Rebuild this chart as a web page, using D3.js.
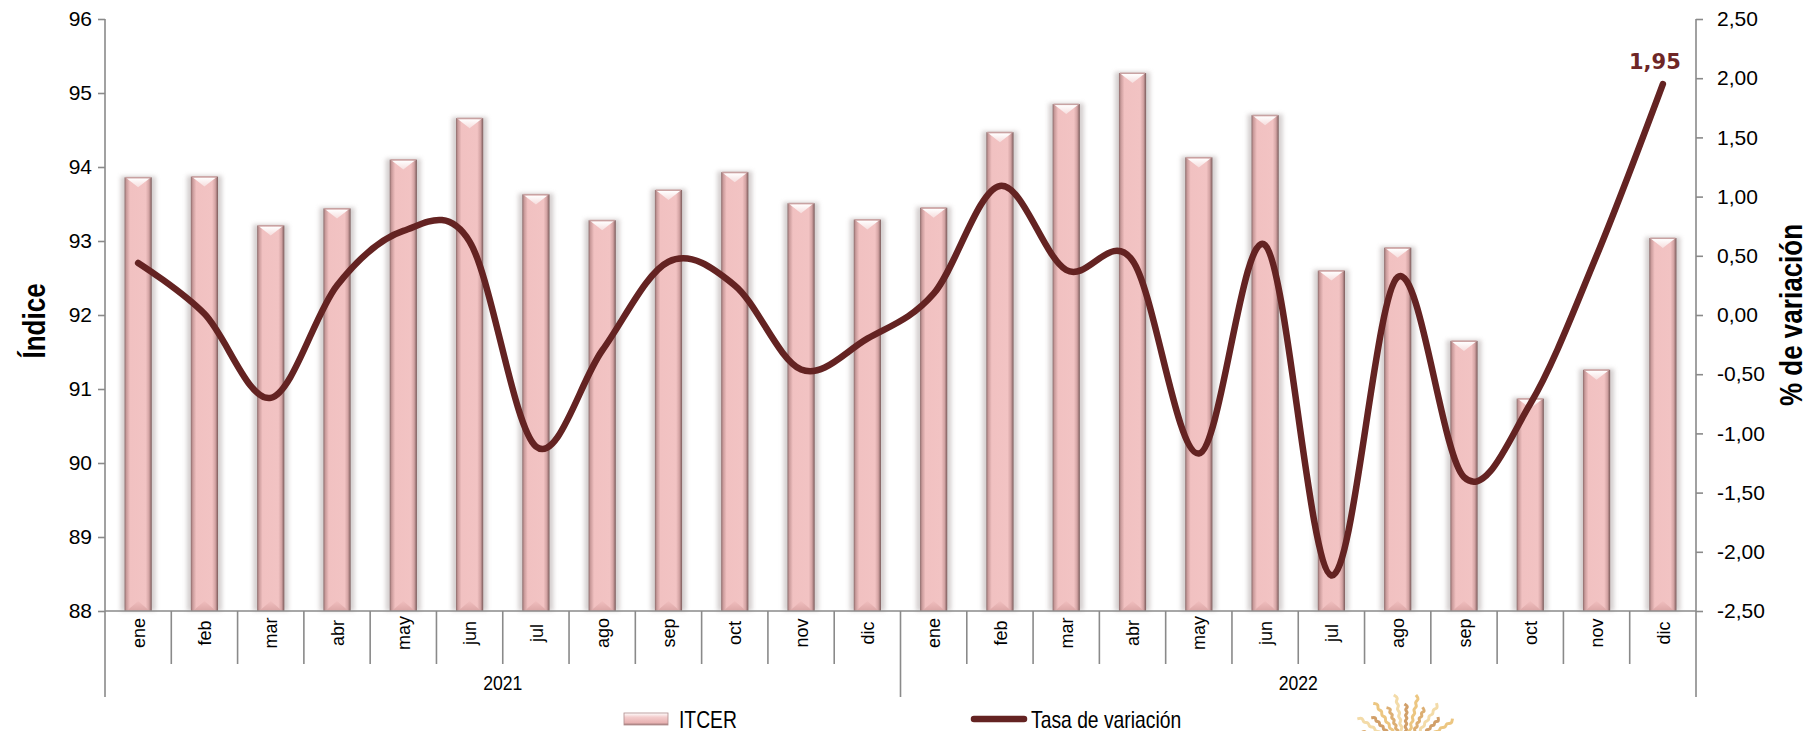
<!DOCTYPE html>
<html>
<head>
<meta charset="utf-8">
<script src="https://cdn.jsdelivr.net/npm/d3@7"></script>
<style>
  html, body { margin: 0; padding: 0; background: #ffffff; }
  svg { display: block; }
  .reg { font-family: "Liberation Sans", Arial, sans-serif; }
</style>
</head>
<body>
<svg id="chart" width="1810" height="731"></svg>
<script>
// ---------------- DATA ----------------
const years = ["2021", "2022"];
const months = ["ene","feb","mar","abr","may","jun","jul","ago","sep","oct","nov","dic"];
const itcer2021 = [93.86, 93.87, 93.21, 93.44, 94.10, 94.66, 93.63, 93.28, 93.69, 93.93, 93.51, 93.29];
const itcer2022 = [93.45, 94.47, 94.85, 95.27, 94.13, 94.70, 92.60, 92.91, 91.65, 90.87, 91.26, 93.04];
const tasa2021 = [0.44, 0.01, -0.70, 0.25, 0.71, 0.62, -1.11, -0.30, 0.45, 0.25, -0.46, -0.20];
const tasa2022 = [0.18, 1.09, 0.38, 0.46, -1.17, 0.59, -2.20, 0.32, -1.37, -0.75, 0.50, 1.95];
const leftTicks = [88, 89, 90, 91, 92, 93, 94, 95, 96];
const rightTicks = [-2.5, -2, -1.5, -1, -0.5, 0, 0.5, 1, 1.5, 2, 2.5];
const seriesNames = ["ITCER", "Tasa de variación"];
const leftTitle = "Índice";
const rightTitle = "% de variación";

// ---------------- BUILD ----------------
const rows = [];
years.forEach((y, yi) => months.forEach((m, mi) => rows.push({
  key: y + "-" + m, year: y, month: m,
  itcer: yi === 0 ? itcer2021[mi] : itcer2022[mi],
  tasa: yi === 0 ? tasa2021[mi] : tasa2022[mi]
})));

const svg = d3.select("#chart");
const L = 105, R = 1696, T = 19, B = 611;
const axisColor = "#8a8a8a";
const lineColor = "#642322";
const NARROW = 0.84;

const x = d3.scaleBand().domain(rows.map(d => d.key)).range([L, R]).paddingInner(0.59).paddingOuter(0.295);
const step = x.step();
const yL = d3.scaleLinear().domain([88, 96]).range([B, T]);
const yR = d3.scaleLinear().domain([-2.5, 2.5]).range([B, T]);

// defs
const defs = svg.append("defs");
const g1 = defs.append("linearGradient").attr("id", "barBody").attr("x1", 0).attr("x2", 1).attr("y1", 0).attr("y2", 0);
[[0, "#8c6a6a"], [0.07, "#c99a9a"], [0.2, "#f1c1c1"], [0.78, "#f2c3c3"], [0.9, "#d3a3a3"], [1, "#7a5a5a"]]
  .forEach(([o, c]) => g1.append("stop").attr("offset", o).attr("stop-color", c));
const g2 = defs.append("linearGradient").attr("id", "capTop").attr("x1", 0).attr("x2", 0).attr("y1", 0).attr("y2", 1);
[[0, "#ffffff"], [1, "#f6dede"]].forEach(([o, c]) => g2.append("stop").attr("offset", o).attr("stop-color", c));
const g3 = defs.append("linearGradient").attr("id", "capBot").attr("x1", 0).attr("x2", 0).attr("y1", 0).attr("y2", 1);
[[0, "#f0bebe"], [1, "#dca6a6"]].forEach(([o, c]) => g3.append("stop").attr("offset", o).attr("stop-color", c));
const g4 = defs.append("linearGradient").attr("id", "legSw").attr("x1", 0).attr("x2", 0).attr("y1", 0).attr("y2", 1);
[[0, "#ffffff"], [0.35, "#f3cccc"], [0.8, "#e8b3b3"], [1, "#a07a7a"]].forEach(([o, c]) => g4.append("stop").attr("offset", o).attr("stop-color", c));
const blur = defs.append("filter").attr("id", "shadow").attr("x", "-50%").attr("y", "-10%").attr("width", "200%").attr("height", "120%");
blur.append("feGaussianBlur").attr("stdDeviation", 2.2);

// bars
const bw = x.bandwidth();
const bars = svg.append("g").selectAll("g").data(rows).join("g");
bars.append("rect")
  .attr("x", d => x(d.key) - 4).attr("y", d => yL(d.itcer) - 1)
  .attr("width", bw + 8).attr("height", d => B - yL(d.itcer) + 1)
  .attr("fill", "#b9b0b0").attr("opacity", 0.6).attr("filter", "url(#shadow)");
bars.append("rect")
  .attr("x", d => x(d.key)).attr("y", d => yL(d.itcer))
  .attr("width", bw).attr("height", d => B - yL(d.itcer))
  .attr("fill", "url(#barBody)");
bars.append("path")
  .attr("d", d => {
    const x0 = x(d.key), x1 = x0 + bw, y0 = yL(d.itcer);
    return `M${x0 + 2},${y0 + 1}L${x1 - 2},${y0 + 1}L${x0 + bw / 2},${y0 + 10}Z`;
  })
  .attr("fill", "url(#capTop)");
bars.append("rect")
  .attr("x", d => x(d.key) + 1).attr("y", d => yL(d.itcer) - 0.5)
  .attr("width", bw - 2).attr("height", 1.5).attr("fill", "#c8a2a2");
bars.append("path")
  .attr("d", d => {
    const x0 = x(d.key), x1 = x0 + bw;
    return `M${x0 + 2},${B}L${x1 - 2},${B}L${x0 + bw / 2},${B - 10}Z`;
  })
  .attr("fill", "url(#capBot)");

// axes
const ax = svg.append("g").attr("stroke", axisColor).attr("stroke-width", 1.6).attr("fill", "none");
ax.append("line").attr("x1", L).attr("x2", L).attr("y1", T).attr("y2", 697);
ax.append("line").attr("x1", R).attr("x2", R).attr("y1", T).attr("y2", 697);
ax.append("line").attr("x1", L).attr("x2", R).attr("y1", B).attr("y2", B);

const leftAxis = d3.axisLeft(yL).tickValues(leftTicks).tickSize(7).tickPadding(6).tickFormat(d3.format("d"));
const gl = svg.append("g").attr("transform", `translate(${L},0)`).call(leftAxis);
gl.select(".domain").remove();
gl.selectAll(".tick line").attr("stroke", axisColor).attr("stroke-width", 1.6);
gl.selectAll(".tick text").attr("class", "reg").attr("font-size", 21).attr("fill", "#000");

const fmtR = v => d3.format(".2f")(v).replace(".", ",").replace("−", "-");
const rightAxis = d3.axisRight(yR).tickValues(rightTicks).tickSize(7).tickPadding(14).tickFormat(fmtR);
const gr = svg.append("g").attr("transform", `translate(${R},0)`).call(rightAxis);
gr.select(".domain").remove();
gr.selectAll(".tick line").attr("stroke", axisColor).attr("stroke-width", 1.6);
gr.selectAll(".tick text").attr("class", "reg").attr("font-size", 21).attr("fill", "#000");

// category separators
const sep = svg.append("g").attr("stroke", axisColor).attr("stroke-width", 1.6);
d3.range(1, rows.length).forEach(i => {
  const xx = x(rows[i].key) - (step - bw) / 2;
  sep.append("line").attr("x1", xx).attr("x2", xx).attr("y1", B).attr("y2", i % 12 === 0 ? 697 : 664);
});

// month labels
svg.append("g").selectAll("text").data(rows).join("text")
  .attr("class", "reg").attr("font-size", 19).attr("fill", "#000")
  .attr("text-anchor", "middle").attr("dominant-baseline", "central")
  .attr("transform", d => `translate(${x(d.key) + bw / 2},633) rotate(-90) scale(0.95,1)`)
  .text(d => d.month);

// year labels
const yearScale = d3.scaleBand().domain(years).range([L, R]);
svg.append("g").selectAll("text").data(years).join("text")
  .attr("class", "reg").attr("font-size", 21).attr("fill", "#000")
  .attr("text-anchor", "middle")
  .attr("transform", d => `translate(${yearScale(d) + yearScale.bandwidth() / 2},690) scale(${NARROW},1)`)
  .text(d => d);

// line
const line = d3.line().x(d => x(d.key) + bw / 2).y(d => yR(d.tasa)).curve(d3.curveCatmullRom.alpha(0));
svg.append("path").datum(rows).attr("d", line)
  .attr("fill", "none").attr("stroke", lineColor).attr("stroke-width", 6.5)
  .attr("stroke-linecap", "round").attr("stroke-linejoin", "round");

// data label on last point
const last = rows[rows.length - 1];
svg.append("text")
  .attr("x", x(last.key) + bw / 2 - 8).attr("y", yR(last.tasa) - 15)
  .attr("text-anchor", "middle")
  .attr("font-family", "DejaVu Sans, Verdana, sans-serif").attr("font-weight", "bold")
  .attr("font-size", 21).attr("fill", "#6e2626")
  .text(fmtR(last.tasa));

// axis titles
svg.append("text").attr("class", "reg").attr("font-weight", "bold").attr("font-size", 31)
  .attr("text-anchor", "middle").attr("dominant-baseline", "central")
  .attr("transform", `translate(34,${(T + B) / 2 + 6}) rotate(-90) scale(${NARROW},1)`).text(leftTitle);
svg.append("text").attr("class", "reg").attr("font-weight", "bold").attr("font-size", 31)
  .attr("text-anchor", "middle").attr("dominant-baseline", "central")
  .attr("transform", `translate(1791,${(T + B) / 2}) rotate(-90) scale(${NARROW},1)`).text(rightTitle);

// legend
const leg = svg.append("g");
leg.append("rect").attr("x", 624).attr("y", 713).attr("width", 44).attr("height", 12)
  .attr("fill", "url(#legSw)").attr("stroke", "#b08c8c").attr("stroke-width", 0.8);
leg.append("text").attr("class", "reg").attr("font-size", 23)
  .attr("transform", `translate(679,728) scale(${NARROW},1)`).text(seriesNames[0]);
leg.append("line").attr("x1", 974).attr("x2", 1024).attr("y1", 719).attr("y2", 719)
  .attr("stroke", lineColor).attr("stroke-width", 6.5).attr("stroke-linecap", "round");
leg.append("text").attr("class", "reg").attr("font-size", 23)
  .attr("transform", `translate(1031,728) scale(${NARROW},1)`).text(seriesNames[1]);

// decorative emblem (bottom)
const emb = svg.append("g").attr("transform", "translate(1405,752)").attr("opacity", 0.85);
const rayAngles = d3.range(-165, -10, 11);
const rayCols = ["#e9bd6c", "#d6a05a", "#f1d59a", "#c98f4f"];
rayAngles.forEach((a, i) => {
  const r0 = 14, r1 = 58 - (i % 2) * 10;
  const pts = d3.range(0, 13).map(k => {
    const r = r0 + (r1 - r0) * k / 12;
    const off = (k % 2 ? 2.2 : -2.2);
    const rad = (a * Math.PI) / 180, nrm = rad + Math.PI / 2;
    return [r * Math.cos(rad) + off * Math.cos(nrm), r * Math.sin(rad) + off * Math.sin(nrm)];
  });
  emb.append("path").attr("d", d3.line().curve(d3.curveBasis)(pts))
    .attr("fill", "none").attr("stroke", rayCols[i % rayCols.length]).attr("stroke-width", 3);
});
emb.append("circle").attr("r", 14).attr("fill", "#d79a4a").attr("opacity", 0.8);
</script>
</body>
</html>
